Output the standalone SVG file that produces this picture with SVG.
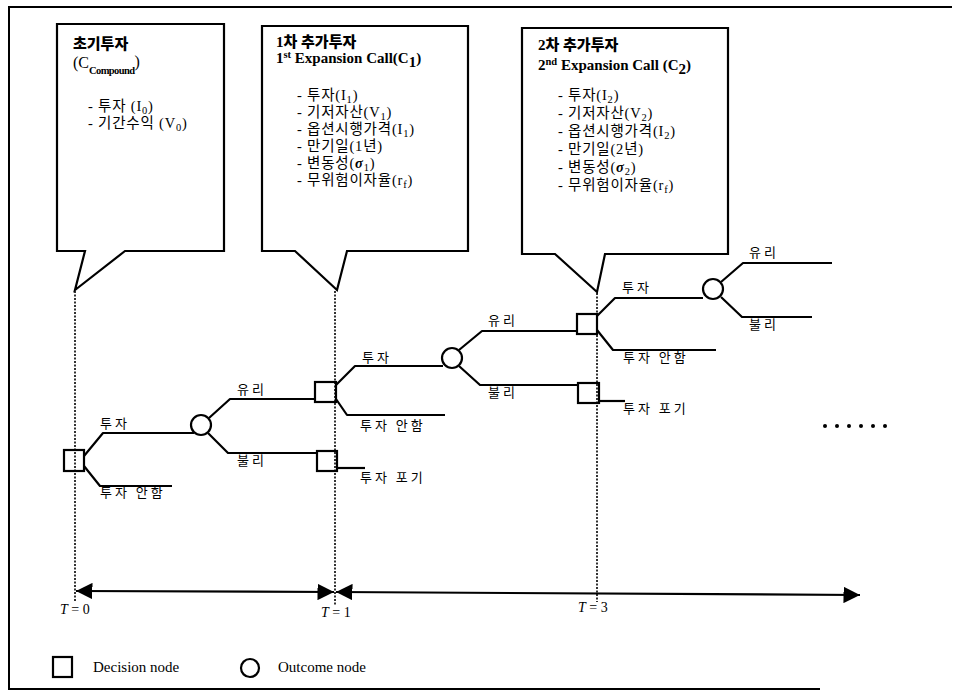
<svg xmlns="http://www.w3.org/2000/svg" width="953" height="695" viewBox="0 0 953 695">
<defs>
<style>
.frame{fill:none;stroke:#000;stroke-width:2}
.callout{fill:#fff;stroke:#000;stroke-width:2.2;stroke-linejoin:miter}
.ln{fill:none;stroke:#000;stroke-width:2.2;stroke-linejoin:round}
.dot{stroke:#000;stroke-width:1.6;stroke-dasharray:2 1.5;fill:none}
.axis{stroke:#000;stroke-width:2.2;fill:none}
.sq{fill:none;stroke:#000;stroke-width:2.2}
.ci{fill:#fff;stroke:#000;stroke-width:2.2}
.kt{font-family:"Liberation Serif","Noto Sans CJK KR",serif;font-size:14.5px;letter-spacing:0.8px;fill:#000}
.ti{font-family:"Liberation Serif","Noto Sans CJK KR",serif;font-size:15px;font-weight:900;fill:#000}
.en{font-family:"Liberation Serif",serif;font-size:15px;font-weight:bold;fill:#000}
.lb{font-family:"Noto Sans CJK KR",sans-serif;font-size:13px;letter-spacing:3px;fill:#000}
.lg{font-family:"Liberation Serif",serif;font-size:15px;fill:#000}
.tl{font-family:"Liberation Serif",serif;font-size:14px;fill:#000}
.sub{font-size:10.5px}
</style>
<marker id="ah" viewBox="0 0 10 10" refX="10" refY="5" markerWidth="7.5" markerHeight="7.5" orient="auto-start-reverse" markerUnits="strokeWidth">
<path d="M0,0 L10,5 L0,10 Z" fill="#000"/>
</marker>
</defs>
<rect width="953" height="695" fill="#fff"/>
<path class="frame" d="M952,7 H9 V689 H820"/>

<g id="callout-0">
<path class="callout" d="M57,24 H224 V251 H125 L75,290 L85,251 H57 Z"/>
<text class="ti" x="73" y="49" style="font-family:'Noto Sans CJK KR',sans-serif">초기투자</text>
<text class="kt" x="73" y="68" style="font-size:16px;letter-spacing:0">(C<tspan class="sub" dy="6" style="font-weight:bold;letter-spacing:-0.6px">Compound</tspan><tspan dy="-7">)</tspan></text>
<text class="kt" x="88" y="111">- 투자 (I<tspan class="sub" dy="3">0</tspan><tspan dy="-3">)</tspan></text>
<text class="kt" x="88" y="128">- 기간수익 (V<tspan class="sub" dy="3">0</tspan><tspan dy="-3">)</tspan></text>
</g>

<g id="callout-1">
<path class="callout" d="M262,26 H468 V251 H347 L337,290 L295,251 H262 Z"/>
<text class="ti" x="276" y="47">1차 추가투자</text>
<text class="en" x="276" y="63">1<tspan class="sub" dy="-5">st</tspan><tspan dy="5"> Expansion Call(C</tspan><tspan dy="4">1</tspan><tspan dy="-4">)</tspan></text>
<text class="kt" x="297" y="100">- 투자(I<tspan class="sub" dy="3">1</tspan><tspan dy="-3">)</tspan></text>
<text class="kt" x="297" y="117">- 기저자산(V<tspan class="sub" dy="3">1</tspan><tspan dy="-3">)</tspan></text>
<text class="kt" x="297" y="134">- 옵션시행가격(I<tspan class="sub" dy="3">1</tspan><tspan dy="-3">)</tspan></text>
<text class="kt" x="297" y="151">- 만기일(1년)</text>
<text class="kt" x="297" y="168">- 변동성(<tspan font-weight="bold" font-style="italic">σ</tspan><tspan class="sub" dy="3">1</tspan><tspan dy="-3">)</tspan></text>
<text class="kt" x="297" y="185">- 무위험이자율(r<tspan class="sub" dy="3">f</tspan><tspan dy="-3">)</tspan></text>
</g>

<g id="callout-2">
<path class="callout" d="M522,28 H728 V254 H605 L597,292 L555,254 H522 Z"/>
<text class="ti" x="538" y="50">2차 추가투자</text>
<text class="en" x="538" y="70">2<tspan class="sub" dy="-5">nd</tspan><tspan dy="5"> Expansion Call (C</tspan><tspan dy="4">2</tspan><tspan dy="-4">)</tspan></text>
<text class="kt" x="558" y="100">- 투자(I<tspan class="sub" dy="3">2</tspan><tspan dy="-3">)</tspan></text>
<text class="kt" x="558" y="118">- 기저자산(V<tspan class="sub" dy="3">2</tspan><tspan dy="-3">)</tspan></text>
<text class="kt" x="558" y="136">- 옵션시행가격(I<tspan class="sub" dy="3">2</tspan><tspan dy="-3">)</tspan></text>
<text class="kt" x="558" y="154">- 만기일(2년)</text>
<text class="kt" x="558" y="172">- 변동성(<tspan font-weight="bold" font-style="italic">σ</tspan><tspan class="sub" dy="3">2</tspan><tspan dy="-3">)</tspan></text>
<text class="kt" x="558" y="190">- 무위험이자율(r<tspan class="sub" dy="3">f</tspan><tspan dy="-3">)</tspan></text>
</g>

<g id="timeline">
<line class="dot" x1="75" y1="291" x2="75" y2="602"/>
<line class="dot" x1="335" y1="291" x2="335" y2="606"/>
<line class="dot" x1="597" y1="293" x2="597" y2="602"/>
<line class="axis" x1="76" y1="591" x2="334" y2="592" marker-start="url(#ah)" marker-end="url(#ah)"/>
<line class="axis" x1="336" y1="592" x2="860" y2="595" marker-start="url(#ah)" marker-end="url(#ah)"/>
<text class="tl" x="60" y="614"><tspan font-style="italic">T</tspan> = 0</text>
<text class="tl" x="321" y="617"><tspan font-style="italic">T</tspan> = 1</text>
<text class="tl" x="578" y="612"><tspan font-style="italic">T</tspan> = 3</text>
</g>

<g id="connectors">
<path class="ln" d="M84,456 L103,433 H194"/>
<path class="ln" d="M84,466 L100,486 H172"/>
<path class="ln" d="M209,418 L230,399 H315"/>
<path class="ln" d="M208,433 L228,453 H317"/>
<path class="ln" d="M336,385 L355,366 H443"/>
<path class="ln" d="M336,399 L347,415 H445"/>
<path class="ln" d="M337,468 H365"/>
<path class="ln" d="M459,350 L482,331 H577"/>
<path class="ln" d="M459,366 L480,385 H578"/>
<path class="ln" d="M597,316 L615,298 H703"/>
<path class="ln" d="M597,330 L613,350 H716"/>
<path class="ln" d="M599,401 H625"/>
<path class="ln" d="M721,282 L743,263 H832"/>
<path class="ln" d="M721,297 L742,317 H812"/>
</g>

<g id="labels">
<text class="lb" x="100" y="428">투자</text>
<text class="lb" x="100" y="497">투자 안함</text>
<text class="lb" x="237" y="394">유리</text>
<text class="lb" x="237" y="465">불리</text>
<text class="lb" x="362" y="362">투자</text>
<text class="lb" x="360" y="430">투자 안함</text>
<text class="lb" x="360" y="482">투자 포기</text>
<text class="lb" x="488" y="325">유리</text>
<text class="lb" x="488" y="397">불리</text>
<text class="lb" x="622" y="292">투자</text>
<text class="lb" x="623" y="362">투자 안함</text>
<text class="lb" x="623" y="413">투자 포기</text>
<text class="lb" x="749" y="257">유리</text>
<text class="lb" x="749" y="329">불리</text>
</g>

<g id="d0"><rect class="sq" x="64" y="450" width="20" height="21"/></g>
<g id="o0"><circle class="ci" cx="201" cy="425" r="10"/></g>
<g id="d1a"><rect class="sq" x="315" y="382" width="21" height="20"/></g>
<g id="d1b"><rect class="sq" x="317" y="451" width="20" height="20"/></g>
<g id="o1"><circle class="ci" cx="452" cy="358" r="10"/></g>
<g id="d3a"><rect class="sq" x="577" y="314" width="20" height="20"/></g>
<g id="d3b"><rect class="sq" x="578" y="383" width="21" height="20"/></g>
<g id="o3"><circle class="ci" cx="713" cy="289" r="10"/></g>

<g id="ellipsis" fill="#000">
<circle cx="825" cy="426" r="2"/><circle cx="837" cy="426" r="2"/><circle cx="849" cy="426" r="2"/>
<circle cx="861" cy="426" r="2"/><circle cx="873" cy="426" r="2"/><circle cx="885" cy="426" r="2"/>
</g>

<g id="legend">
<rect class="sq" x="53" y="657" width="19" height="20"/>
<text class="lg" x="93" y="672">Decision node</text>
<circle class="ci" cx="250" cy="668" r="9"/>
<text class="lg" x="278" y="672">Outcome node</text>
</g>
</svg>
